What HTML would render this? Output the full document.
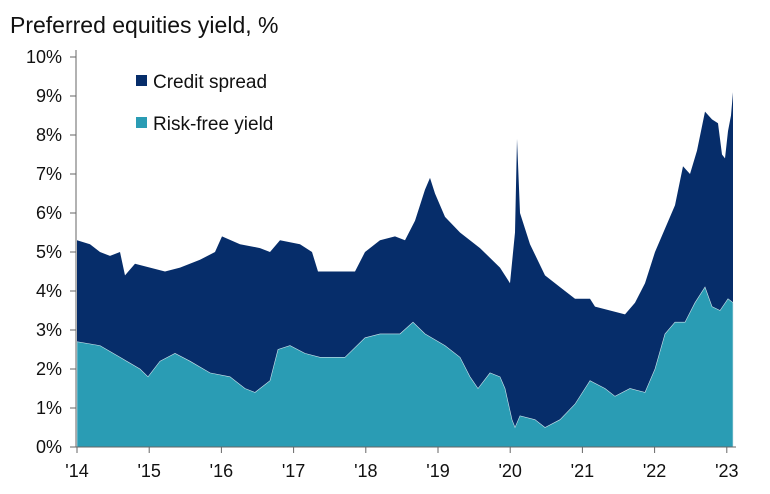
<!DOCTYPE html>
<html><head><meta charset="utf-8"><style>
body{margin:0;background:#fff;width:770px;height:489px;overflow:hidden;font-family:"Liberation Sans",sans-serif}
</style></head><body>
<svg id="s" width="770" height="489" xmlns="http://www.w3.org/2000/svg" font-family="Liberation Sans, sans-serif">
<text x="10" y="33" font-size="23" fill="#111">Preferred equities yield, %</text>
<g id="areas"></g>
<line x1="76" y1="50" x2="76" y2="447" stroke="#666" stroke-width="1"/>
<line x1="76" y1="447" x2="736" y2="447" stroke="#666" stroke-width="1"/>
<g id="ticks" font-size="18" fill="#111"></g>
<rect x="136" y="75" width="11" height="11" fill="#062d6a"/>
<text x="153" y="88" font-size="19" fill="#111">Credit spread</text>
<rect x="136" y="117" width="11" height="11" fill="#2a9cb4"/>
<text x="153" y="130" font-size="19" fill="#111">Risk-free yield</text>
</svg>
<script>
(function(){
var Y=function(v){return 447-39*v;};
var tp=[[77,5.3],[90,5.2],[100,5.0],[110,4.9],[120,5.0],[125,4.4],[135,4.7],[150,4.6],[165,4.5],[180,4.6],[200,4.8],[215,5.0],[222,5.4],[240,5.2],[260,5.1],[270,5.0],[280,5.3],[300,5.2],[312,5.0],[318,4.5],[340,4.5],[355,4.5],[365,5.0],[380,5.3],[395,5.4],[405,5.3],[415,5.8],[425,6.6],[430,6.9],[435,6.5],[445,5.9],[460,5.5],[480,5.1],[500,4.6],[510,4.2],[515,5.5],[517,7.9],[520,6.0],[530,5.2],[545,4.4],[560,4.1],[575,3.8],[590,3.8],[595,3.6],[610,3.5],[625,3.4],[635,3.7],[645,4.2],[655,5.0],[665,5.6],[675,6.2],[683,7.2],[690,7.0],[697,7.6],[705,8.6],[712,8.4],[718,8.3],[722,7.5],[725,7.4],[728,8.1],[731,8.5],[733,9.1]];
var rf=[[77,2.7],[100,2.6],[120,2.3],[140,2.0],[148,1.8],[160,2.2],[175,2.4],[190,2.2],[210,1.9],[230,1.8],[245,1.5],[255,1.4],[270,1.7],[278,2.5],[290,2.6],[305,2.4],[320,2.3],[345,2.3],[365,2.8],[380,2.9],[400,2.9],[413,3.2],[425,2.9],[445,2.6],[460,2.3],[470,1.8],[478,1.5],[490,1.9],[500,1.8],[505,1.5],[512,0.7],[515,0.5],[520,0.8],[535,0.7],[545,0.5],[560,0.7],[575,1.1],[590,1.7],[605,1.5],[615,1.3],[630,1.5],[645,1.4],[655,2.0],[665,2.9],[675,3.2],[685,3.2],[695,3.7],[705,4.1],[712,3.6],[720,3.5],[728,3.8],[733,3.7]];
function poly(d,c,st){var p=d.map(function(a){return a[0]+','+Y(a[1]).toFixed(1);}).join(' ');return '<polygon points="77,447 '+p+' 733,447" fill="'+c+'" '+(st||'')+'/>';}
document.getElementById('areas').innerHTML=poly(tp,'#062d6a')+poly(rf,'#2a9cb4','stroke="#cfe3ea" stroke-width="0.6"');
var t='';
for(var i=0;i<=10;i++){var y=Y(i);t+='<line x1="70" y1="'+y+'" x2="76" y2="'+y+'" stroke="#666"/><text x="62" y="'+(y+6)+'" text-anchor="end">'+i+'%</text>';}
var yr=['14','15','16','17','18','19','20','21','22','23'];
yr.forEach(function(s,i){var x=77+72.2*i;t+='<line x1="'+x+'" y1="447" x2="'+x+'" y2="453" stroke="#666"/><text x="'+x+'" y="477" text-anchor="middle">\''+s+'</text>';});
document.getElementById('ticks').innerHTML=t;
})();
</script>
</body></html>
